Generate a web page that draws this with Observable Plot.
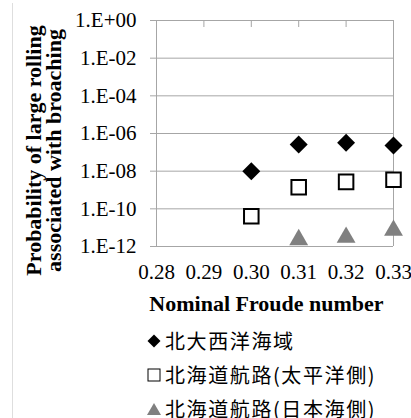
<!DOCTYPE html>
<html>
<head>
<meta charset="utf-8">
<script src="https://cdn.jsdelivr.net/npm/d3@7"></script>
<script src="https://cdn.jsdelivr.net/npm/@observablehq/plot@0.6"></script>
<style>
  html, body { margin: 0; padding: 0; background: #fff; }
  #wrap { position: relative; width: 411px; height: 418px; overflow: hidden; }
  #edge { position: absolute; left: 12px; top: 3px; width: 1px; height: 415px; background: #dedede; }
  #legend { position: absolute; left: 147px; top: 324px; font-family: "Noto Sans CJK JP", sans-serif; font-size: 20px; letter-spacing: 1.6px; color: #000; }
  .item { height: 34px; line-height: 34px; display: flex; align-items: center; white-space: nowrap; }
  .item svg { margin-right: 4px; flex: none; }
  #chart svg text { font-family: "Liberation Serif", "Times New Roman", serif; }
  #probe { position: absolute; left: 30px; top: 380px; font: 9px monospace; color: #fff; margin: 0; pointer-events: none; }
</style>
</head>
<body>
<div id="wrap"><div id="chart"></div><div id="edge"></div><div id="legend"></div><pre id="probe" aria-hidden="true"></pre></div>
<script>
// ---- data ----
const xTicks = [0.28, 0.29, 0.30, 0.31, 0.32, 0.33];
const yTicks = [1, 1e-2, 1e-4, 1e-6, 1e-8, 1e-10, 1e-12];
const yTickLabels = ["1.E+00", "1.E-02", "1.E-04", "1.E-06", "1.E-08", "1.E-10", "1.E-12"];
const froude = [0.30, 0.31, 0.32, 0.33];
const northAtlantic = [1.0e-8, 2.6e-7, 3.2e-7, 2.3e-7];
const hokkaidoPacific = [4.0e-11, 1.4e-9, 2.7e-9, 3.5e-9];
const froudeJapanSea = [0.31, 0.32, 0.33];
const hokkaidoJapanSea = [3.2e-12, 4.3e-12, 1.0e-11];
const seriesNames = ["北大西洋海域", "北海道航路(太平洋側)", "北海道航路(日本海側)"];
const xTitle = "Nominal Froude number";
const yTitle = "Probability of large rolling\nassociated with broaching";

const grid = "#a6a6a6";
const triGray = "#808080";
const serif = "'Liberation Serif', 'Times New Roman', serif";

const atl = froude.map((f, i) => ({x: f, y: northAtlantic[i]}));
const pac = froude.map((f, i) => ({x: f, y: hokkaidoPacific[i]}));
const jap = froudeJapanSea.map((f, i) => ({x: f, y: hokkaidoJapanSea[i]}));

const chart = Plot.plot({
  width: 411,
  height: 318,
  marginLeft: 156,
  marginRight: 18,
  marginTop: 20,
  marginBottom: 72,
  style: {fontFamily: serif, fontSize: "21px", color: "#000", background: "transparent", overflow: "visible"},
  x: {domain: [0.28, 0.33]},
  y: {type: "log", domain: [1e-12, 1]},
  marks: [
    Plot.ruleY(yTicks, {stroke: grid, strokeWidth: 1}),
    Plot.ruleX([xTicks[0], xTicks[xTicks.length - 1]], {stroke: grid, strokeWidth: 1}),
    Plot.tickX(xTicks.slice(1, -1), {stroke: grid, insetBottom: 219}),
    Plot.axisY({ticks: yTicks, tickFormat: d => yTickLabels[yTicks.indexOf(d)], tickSize: 6, tickPadding: 14, stroke: grid, fill: "#000", fontFamily: serif, fontSize: 21, label: null}),
    Plot.axisX({ticks: xTicks, tickFormat: d3.format(".2f"), tickSize: 0, tickPadding: 18, fill: "#000", fontFamily: serif, fontSize: 21, label: null}),
    Plot.text([yTitle], {frameAnchor: "left", rotate: -90, dx: -112, dy: 17, fontFamily: serif, fontWeight: "bold", fontSize: 22, lineHeight: 0.9, textAnchor: "middle", lineAnchor: "middle", fill: "#000"}),
    Plot.text([xTitle], {frameAnchor: "bottom", dy: 57, dx: -8.5, fontFamily: serif, fontWeight: "bold", fontSize: 22, textAnchor: "middle", lineAnchor: "middle", fill: "#000"}),
    Plot.dot(atl, {x: "x", y: "y", symbol: "diamond2", r: 8.1, fill: "#000", stroke: "none"}),
    Plot.dot(pac, {x: "x", y: "y", symbol: "square", r: 8.2, fill: "#fff", stroke: "#000", strokeWidth: 2}),
    Plot.dot(jap, {x: "x", y: "y", symbol: "triangle", r: 7, fill: triGray, stroke: "none", dy: 2.7})
  ]
});
document.getElementById("chart").appendChild(chart);

// ---- legend ----
const markers = [
  '<svg width="14" height="14" viewBox="-7 -7 14 14"><path d="M0,-6.5L6.5,0L0,6.5L-6.5,0Z" fill="#000"/></svg>',
  '<svg width="14" height="14" viewBox="-7 -7 14 14"><rect x="-6" y="-6" width="12" height="12" fill="#fff" stroke="#000" stroke-width="1"/></svg>',
  '<svg width="14" height="14" viewBox="-7 -7 14 14"><path d="M0,-6L7,6L-7,6Z" fill="' + triGray + '"/></svg>'
];
const legend = document.getElementById("legend");
seriesNames.forEach((name, i) => {
  const div = document.createElement("div");
  div.className = "item";
  div.innerHTML = markers[i] + "<span>" + name + "</span>";
  legend.appendChild(div);
});

// force font resolution and layout of every text once everything is built
let acc = 0;
chart.querySelectorAll("text").forEach(t => { getComputedStyle(t).fontFamily; acc += t.getBoundingClientRect().width; });
legend.querySelectorAll("span").forEach(s => { acc += s.getBoundingClientRect().width; });
document.getElementById("probe").textContent = acc > 0 ? "ok " + Math.round(acc) : "";
</script>
</body>
</html>
